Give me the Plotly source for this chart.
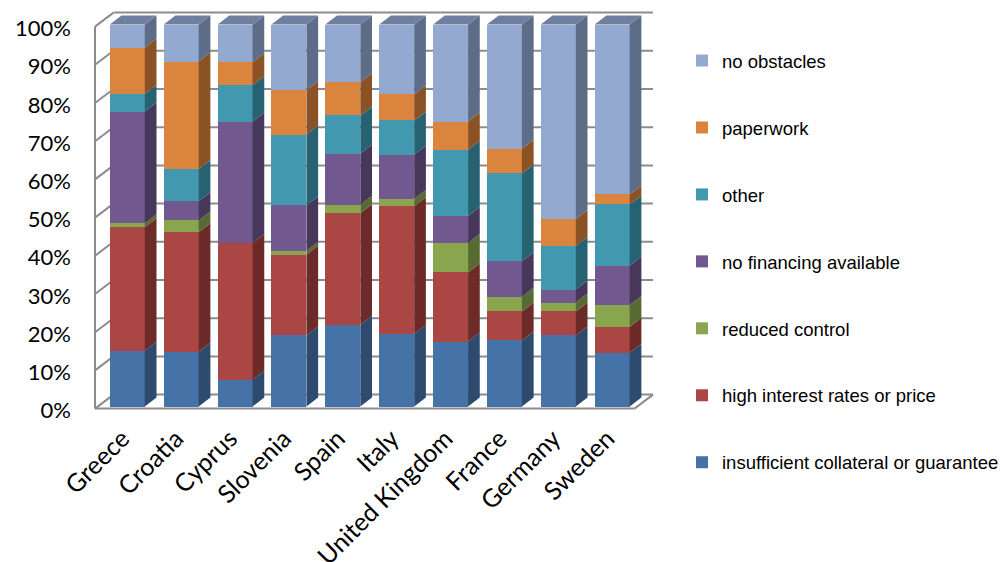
import numpy as np
import plotly.graph_objects as go

# Obstacles to obtaining financing, share of answers per country (%)
countries = ["Greece", "Croatia", "Cyprus", "Slovenia", "Spain", "Italy",
             "United Kingdom", "France", "Germany", "Sweden"]
insufficient_collateral = [14.6, 14.3, 7.0, 18.6, 21.4, 19.0, 17.0, 17.3, 18.6, 14.1]
high_interest = [32.3, 31.3, 35.8, 21.1, 29.2, 33.4, 18.1, 7.6, 6.3, 6.8]
reduced_control = [1.1, 3.1, 0.0, 1.1, 2.2, 1.9, 7.7, 3.8, 2.3, 5.7]
no_financing = [29.2, 5.0, 31.8, 11.9, 13.4, 11.6, 7.1, 9.3, 3.4, 10.3]
other = [4.6, 8.5, 9.5, 18.5, 10.0, 9.0, 17.3, 23.0, 11.4, 16.0]
paperwork = [12.1, 28.1, 6.0, 11.6, 8.7, 6.8, 7.4, 6.5, 7.1, 2.6]
no_obstacles = [6.1, 9.7, 9.9, 17.2, 15.1, 18.3, 25.4, 32.5, 50.9, 44.5]
y_ticks = [0, 10, 20, 30, 40, 50, 60, 70, 80, 90, 100]
y_tick_labels = [f"{v}%" for v in y_ticks]

# (name, values, front colour, side colour)
series = [
    ("insufficient collateral or guarantee", insufficient_collateral, "#4572A7", "#2E4A6E"),
    ("high interest rates or price", high_interest, "#AA4643", "#6C2A29"),
    ("reduced control", reduced_control, "#89A54E", "#576A31"),
    ("no financing available", no_financing, "#71588F", "#47375B"),
    ("other", other, "#4198AF", "#266272"),
    ("paperwork", paperwork, "#DB843D", "#8B5225"),
    ("no obstacles", no_obstacles, "#93A9CF", "#5E6D87"),
]
TOP_COLOR = "#6E7F9F"

# pixel geometry of the pseudo-3D projection
W, H = 1000, 562
M_L, M_R, M_T, M_B = 92, 340, 8, 150
X0_PX, X_PX = 127.3, 53.876      # px of category 0 and px per category
Y0_PX, Y_PX = 406.5, 3.82        # px of 0 % and px per percent

def px_to_x(px):
    return (px - X0_PX) / X_PX

def px_to_y(py):
    return (Y0_PX - py) / Y_PX

x_range = [px_to_x(M_L), px_to_x(W - M_R)]
y_range = [px_to_y(H - M_B), px_to_y(M_T)]

BAR_W = 35 / X_PX
BAR_DX, BAR_DY = 11.7 / X_PX, 9 / Y_PX        # bar depth
WALL_DX, WALL_DY = 18.5 / X_PX, 14 / Y_PX     # wall depth
WALL_X_LEFT = px_to_x(95)
WALL_X_RIGHT_BACK = px_to_x(653)
WALL_Y_OFF = -2.1 / Y_PX

x = np.arange(len(countries))
n_series = len(series)

fig = go.Figure()

# front faces: stacked bars
for k, (name, vals, front, side) in enumerate(series):
    fig.add_trace(go.Bar(
        x=x, y=vals, name=name, width=BAR_W,
        marker=dict(color=front, line=dict(width=0)),
        legendgroup=name, legendrank=100 + n_series - k,
    ))

# side faces (and top face of the highest segment)
base = np.zeros(len(countries))
for k, (name, vals, front, side) in enumerate(series):
    vals = np.asarray(vals, dtype=float)
    top = base + vals
    xs, ys = [], []
    for i in range(len(countries)):
        if vals[i] <= 0:
            continue
        xr = x[i] + BAR_W / 2
        xs += [xr, xr + BAR_DX, xr + BAR_DX, xr, xr, None]
        ys += [base[i], base[i] + BAR_DY, top[i] + BAR_DY, top[i], base[i], None]
    fig.add_trace(go.Scatter(
        x=xs, y=ys, mode="lines", fill="toself", fillcolor=side,
        line=dict(width=0), hoverinfo="skip", showlegend=False,
        legendgroup=name, legendrank=100 + n_series - k,
    ))
    if k == n_series - 1:
        xs, ys = [], []
        for i in range(len(countries)):
            xl, xr = x[i] - BAR_W / 2, x[i] + BAR_W / 2
            xs += [xl, xr, xr + BAR_DX, xl + BAR_DX, xl, None]
            ys += [top[i], top[i], top[i] + BAR_DY, top[i] + BAR_DY, top[i], None]
        fig.add_trace(go.Scatter(
            x=xs, y=ys, mode="lines", fill="toself", fillcolor=TOP_COLOR,
            line=dict(width=0), hoverinfo="skip", showlegend=False,
            legendgroup=name, legendrank=100 + n_series - k,
        ))
    base = top

# walls, floor and gridlines
GRID = dict(color="#8C8C8C", width=2)
xlf, xlb = WALL_X_LEFT, WALL_X_LEFT + WALL_DX
xrb = WALL_X_RIGHT_BACK
xrf = xrb - WALL_DX
for v in y_ticks:
    yf = v + WALL_Y_OFF
    yb = yf + WALL_DY
    fig.add_shape(type="line", x0=xlf, y0=yf, x1=xlb, y1=yb, line=GRID, layer="below")
    fig.add_shape(type="line", x0=xlb, y0=yb, x1=xrb, y1=yb, line=GRID, layer="below")
y_floor = y_ticks[0] + WALL_Y_OFF
fig.add_shape(type="line", x0=xlf, y0=y_floor, x1=xrf, y1=y_floor, line=GRID, layer="below")
fig.add_shape(type="line", x0=xrf, y0=y_floor, x1=xrb, y1=y_floor + WALL_DY, line=GRID, layer="below")
fig.add_shape(type="line", x0=xlf, y0=y_floor, x1=xlf, y1=y_ticks[-1] + WALL_Y_OFF,
              line=GRID, layer="below")

fig.update_layout(
    width=W, height=H,
    margin=dict(l=M_L, r=M_R, t=M_T, b=M_B, autoexpand=False),
    barmode="stack",
    plot_bgcolor="white", paper_bgcolor="white",
    font=dict(family="Lato, Open Sans, sans-serif", size=22, color="#000000"),
    showlegend=True,
    legend=dict(
        xref="container", x=682 / W, xanchor="left",
        yref="container", y=1 - 42 / H, yanchor="top",
        maxheight=1,
        traceorder="grouped", tracegroupgap=39.9,
        font=dict(family="Liberation Sans, Arial, sans-serif", size=18.5, color="#000000"),
        bgcolor="rgba(0,0,0,0)",
    ),
    xaxis=dict(
        range=x_range, tickmode="array", tickvals=x, ticktext=countries,
        tickangle=-45, showgrid=False, zeroline=False, showline=False,
        ticks="", ticklabelshift=-5, ticklabelstandoff=6,
        tickfont=dict(size=25),
    ),
    yaxis=dict(
        range=y_range, tickmode="array", tickvals=y_ticks, ticktext=y_tick_labels,
        showgrid=False, zeroline=False, showline=False, ticks="",
        ticklabelstandoff=20, ticklabelshift=4,
    ),
)

fig.write_html("out.html")
